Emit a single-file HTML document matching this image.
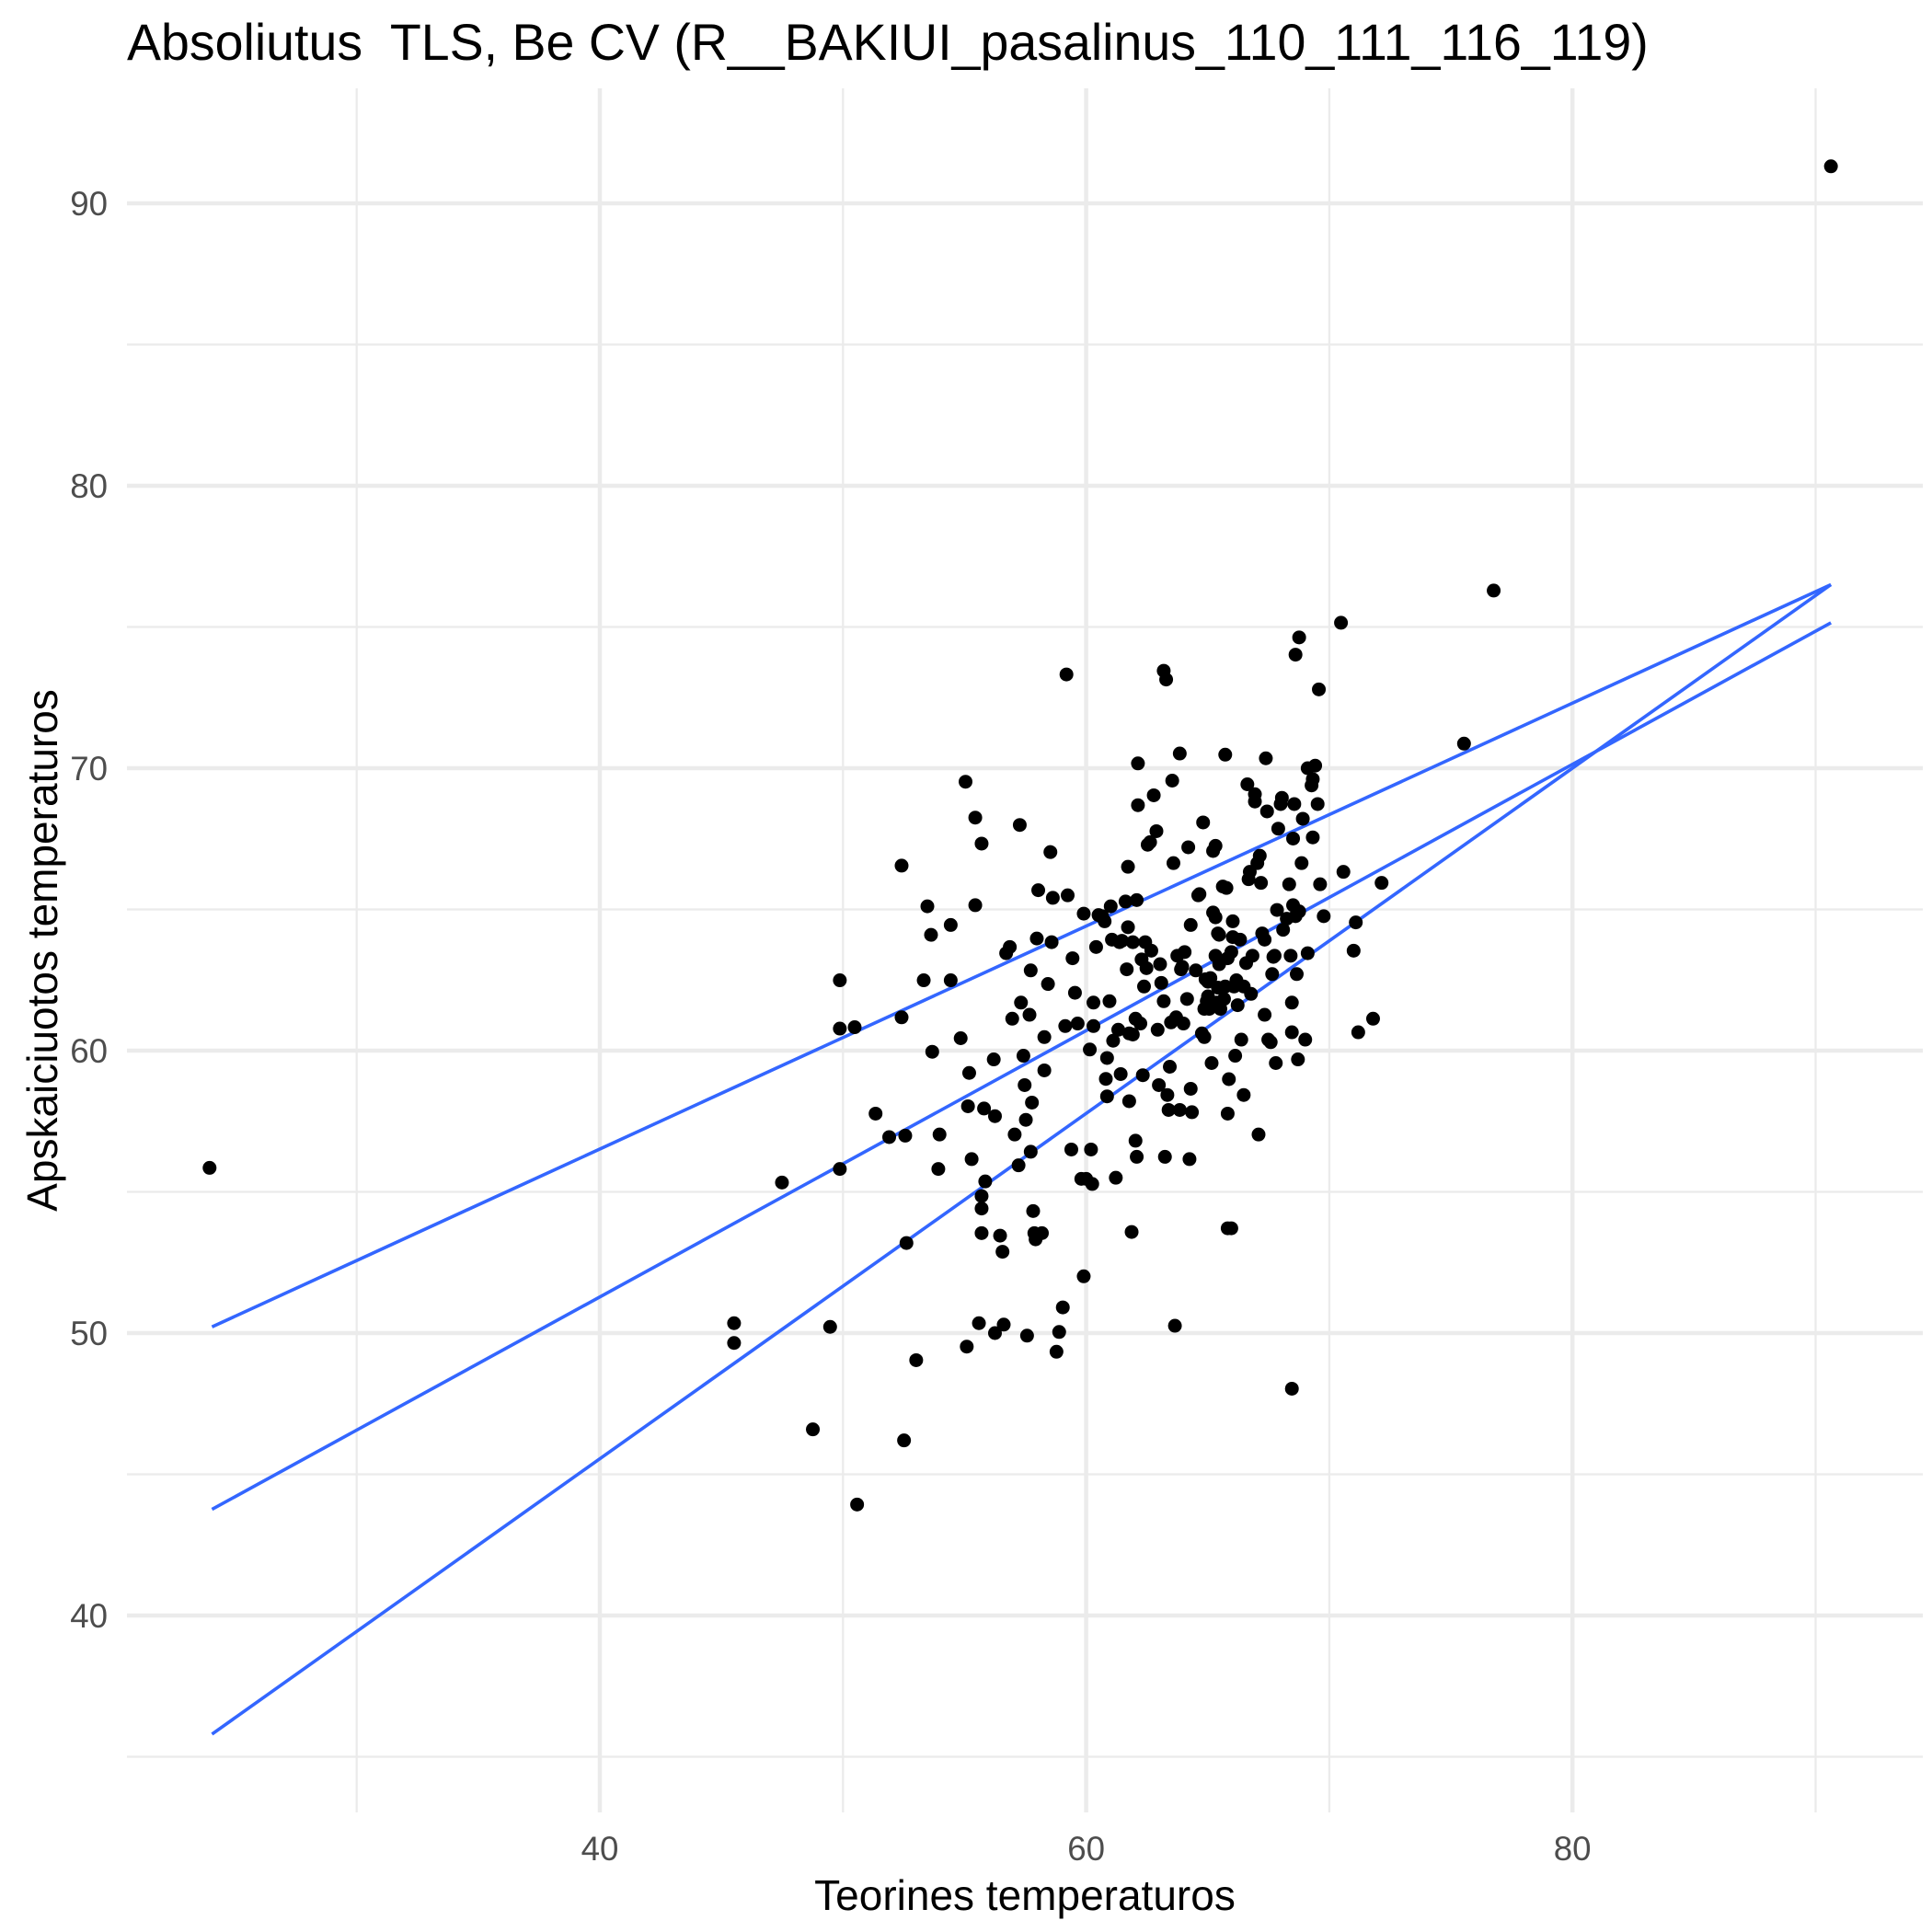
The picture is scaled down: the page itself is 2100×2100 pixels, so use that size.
<!DOCTYPE html>
<html><head><meta charset="utf-8"><style>
html,body{margin:0;padding:0;background:#fff;}
svg{display:block;font-family:"Liberation Sans",Arial,sans-serif;}
</style></head><body>
<svg id="chart" width="2100" height="2100" viewBox="0 0 2100 2100" xmlns="http://www.w3.org/2000/svg">
<rect width="2100" height="2100" fill="#fff"/>
<g id="grid"></g>
<g id="lines"></g>
<g id="points"></g>
<g id="axes"></g>
<text x="138" y="65" font-size="55.5" fill="#000" style="white-space:pre">Absoliutus&#160; TLS, Be CV (R__BAKIUI_pasalinus_110_111_116_119)</text>
<text x="1114" y="2076" font-size="46" text-anchor="middle" fill="#000">Teorines temperaturos</text>
<text x="0" y="0" font-size="46" text-anchor="middle" fill="#000" transform="translate(62,1033) rotate(-90)">Apskaiciuotos temperaturos</text>
</svg>
<script>
const xTicks = [40, 60, 80];
const xMinor = [30, 50, 70, 90];
const yTicks = [40, 50, 60, 70, 80, 90];
const yMinor = [35, 45, 55, 65, 75, 85];
const lineX0 = [24.05, 24.05, 24.05];
const lineY0 = [50.22, 43.76, 35.8];
const lineX1 = [90.63, 90.63, 90.63];
const lineY1 = [76.5, 75.15, 76.5];
const px = [23.95,45.52,45.52,47.49,48.76,49.47,49.87,49.87,50.48,49.87,50.58,51.34,51.9,52.56,52.41,52.41,52.61,52.51,53.01,53.32,53.47,53.67,53.62,53.92,53.97,54.43,54.43,54.84,55.04,55.09,55.14,55.19,55.29,55.44,55.44,55.7,55.7,55.7,55.7,55.59,55.8,55.85,56.2,56.25,56.25,56.46,56.56,56.61,56.71,56.86,56.96,57.06,57.22,57.27,57.32,57.42,57.47,57.52,57.57,57.67,57.72,57.72,57.77,57.82,57.87,57.92,57.97,58.03,58.18,58.28,58.28,58.43,58.53,58.58,58.63,58.78,58.89,59.04,59.14,59.19,59.24,59.39,59.44,59.54,59.65,59.8,59.9,59.9,60.0,60.15,60.2,60.25,60.3,60.3,60.41,60.51,60.66,60.76,60.86,60.81,60.86,60.96,61.01,61.06,61.11,61.22,61.32,61.37,61.42,61.47,61.62,61.67,61.72,61.72,61.77,61.77,61.87,61.92,61.92,62.03,62.08,62.08,62.03,62.13,62.13,62.23,62.28,62.33,62.38,62.43,62.48,62.53,62.63,62.68,62.78,62.89,62.94,62.99,63.04,63.09,63.19,63.24,63.19,63.29,63.34,63.39,63.44,63.49,63.54,63.59,63.65,63.7,63.75,63.85,63.85,63.9,63.95,64.0,64.05,64.15,64.2,64.3,64.25,64.3,64.35,64.51,64.61,64.66,64.81,64.76,64.86,64.86,64.91,64.96,65.01,65.01,65.06,65.11,65.16,65.22,65.22,65.32,65.32,65.37,65.32,65.42,65.42,65.47,65.47,65.52,65.62,65.67,65.72,65.72,65.82,65.77,65.82,65.82,65.87,65.97,65.97,66.03,66.03,66.08,66.18,66.13,66.23,66.33,66.38,66.48,66.48,66.58,66.63,66.68,66.73,66.78,66.84,66.94,66.94,67.09,67.04,67.14,67.19,67.24,67.34,67.39,67.34,67.44,67.49,67.59,67.65,67.75,67.7,67.8,67.85,67.9,68.0,68.05,68.1,68.25,68.35,68.41,68.46,68.46,68.46,68.51,68.51,68.56,68.61,68.66,68.71,68.76,68.86,68.91,69.01,69.11,69.27,69.32,69.42,69.57,69.52,69.62,69.77,70.48,70.58,71.09,71.0,71.19,71.8,72.15,75.54,76.76,90.63,68.61,68.76,69.11,69.32];
const py = [55.85,50.35,49.65,55.33,46.59,50.22,62.49,60.78,60.83,55.81,43.93,57.77,56.94,56.99,66.55,61.18,53.19,46.2,49.04,62.49,65.11,59.96,64.1,55.81,57.03,64.45,62.49,60.44,69.52,49.52,58.03,59.21,56.16,68.25,65.15,67.33,54.85,54.41,53.54,50.35,57.95,55.37,59.69,57.68,50.0,53.45,52.88,50.3,63.45,63.67,61.13,57.03,55.94,67.99,61.7,59.82,58.78,57.55,49.91,61.27,62.84,56.42,58.16,54.32,53.54,53.32,63.97,65.68,53.54,60.48,59.3,62.36,67.03,63.84,65.41,49.34,50.04,50.91,60.87,73.32,65.5,56.5,63.27,62.05,60.96,55.46,52.01,64.85,55.46,60.04,56.5,55.28,61.7,60.87,63.67,64.8,64.76,64.58,59.74,59.0,58.38,61.75,65.11,63.93,60.35,55.5,60.74,63.84,59.17,63.89,65.28,62.88,64.37,66.51,58.21,60.61,53.58,60.57,63.84,56.81,65.33,56.24,61.13,70.17,68.69,60.96,63.23,59.13,62.27,63.84,62.92,67.29,67.38,63.54,69.04,67.77,60.74,58.78,63.06,62.4,61.75,56.24,73.45,73.14,58.43,57.9,59.43,61.0,69.56,66.64,50.26,61.18,63.36,57.9,70.52,62.88,62.97,60.96,63.49,61.83,67.2,64.45,56.16,58.65,57.82,62.84,65.5,65.54,68.08,60.61,60.48,61.48,62.53,61.75,61.92,62.44,61.48,62.57,59.56,64.89,67.07,63.36,67.25,61.7,64.72,64.15,62.23,63.06,64.1,61.48,65.81,61.83,70.48,62.27,63.27,65.76,57.77,53.71,58.99,53.71,63.49,64.58,64.02,62.27,62.49,59.82,61.61,63.93,60.39,62.27,58.43,63.1,69.43,66.07,66.33,62.01,63.36,68.82,69.08,57.03,66.64,66.9,65.94,64.15,63.93,70.35,61.27,68.47,60.39,60.3,62.71,63.36,63.32,59.56,64.98,67.86,68.73,68.95,64.28,64.67,65.89,63.36,61.7,48.03,60.65,65.15,67.51,68.73,64.76,62.71,59.69,64.93,66.64,68.21,60.39,63.45,69.39,69.61,70.09,72.79,68.73,65.89,64.76,75.15,66.33,64.54,63.54,60.65,61.13,65.94,70.87,76.29,91.31,74.02,74.63,70.0,67.55];

const L = 138, R = 2090, T = 96, B = 1970;
function sx(v){ return 652 + (v - 40) * 26.43; }
function sy(v){ return 221 + (90 - v) * 30.7; }
const NS = 'http://www.w3.org/2000/svg';
function mk(tag, attrs, parent){
  const el = document.createElementNS(NS, tag);
  for (const k in attrs) el.setAttribute(k, attrs[k]);
  parent.appendChild(el);
  return el;
}
const grid = document.getElementById('grid');
const axes = document.getElementById('axes');
xMinor.forEach(v => {
  const el = mk('line', {x1: sx(v), x2: sx(v), y1: T, y2: B, stroke: '#ebebeb', 'stroke-width': 2.3}, grid);
  
  
});
yMinor.forEach(v => {
  const el = mk('line', {x1: L, x2: R, y1: sy(v), y2: sy(v), stroke: '#ebebeb', 'stroke-width': 2.3}, grid);
  
  
});
xTicks.forEach(v => {
  const el = mk('line', {x1: sx(v), x2: sx(v), y1: T, y2: B, stroke: '#ebebeb', 'stroke-width': 4.5}, grid);
  
  
  const t = mk('text', {x: sx(v), y: 2022, 'font-size': 36.7, fill: '#4d4d4d', 'text-anchor': 'middle'}, axes);
  t.textContent = String(v);
  
  
});
yTicks.forEach(v => {
  const el = mk('line', {x1: L, x2: R, y1: sy(v), y2: sy(v), stroke: '#ebebeb', 'stroke-width': 4.5}, grid);
  
  
  const t = mk('text', {x: 117, y: sy(v) + 13, 'font-size': 36.7, fill: '#4d4d4d', 'text-anchor': 'end'}, axes);
  t.textContent = String(v);
  
  
});
const pts = document.getElementById('points');
for (let i = 0; i < px.length; i++) {
  const c = mk('circle', {cx: sx(px[i]), cy: sy(py[i]), r: 7.5, fill: '#000'}, pts);
  
  
}
const lines = document.getElementById('lines');
for (let i = 0; i < lineX0.length; i++) {
  const l = mk('line', {x1: sx(lineX0[i]), y1: sy(lineY0[i]), x2: sx(lineX1[i]), y2: sy(lineY1[i]), stroke: '#3366FF', 'stroke-width': 3.6}, lines);
  
  
}
</script>
</body></html>
